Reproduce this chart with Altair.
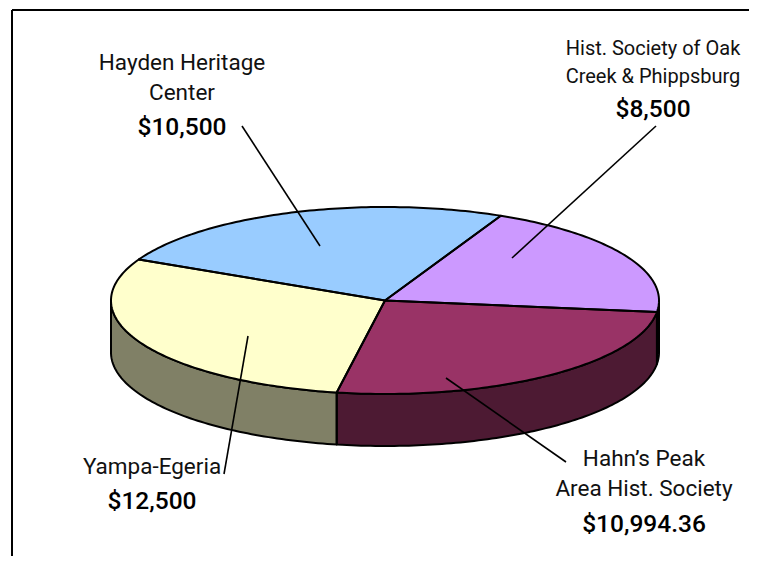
import numpy as np
import pandas as pd
import altair as alt

names = ["Hist. Society of Oak Creek & Phippsburg", "Hahn's Peak Area Hist. Society", "Yampa-Egeria", "Hayden Heritage Center"]
values = [8500, 10994.36, 12500, 10500]
top_colors = ["#CC99FF", "#993366", "#FFFFCC", "#99CCFF"]
side_colors = ["#664D80", "#4D1A33", "#808066", "#4D6680"]

label_text = ["Hayden Heritage", "Center", "$10,500",
              "Hist. Society of Oak", "Creek & Phippsburg", "$8,500",
              "Hahn\u2019s Peak", "Area Hist. Society", "$10,994.36",
              "Yampa-Egeria", "$12,500"]
label_x = [182, 182, 182, 653, 653, 653, 644, 644, 644, 152, 152]
label_y = [70, 100, 135, 55, 83, 117, 466, 496, 532, 474, 509]
label_size = [22.5, 22.5, 24.5, 20, 20, 24.5, 22.5, 22.5, 24.5, 22.5, 24.5]
label_weight = ["normal", "normal", "bold", "normal", "normal", "bold", "normal", "normal", "bold", "normal", "bold"]

leader_x1 = [242, 656, 446, 248]
leader_y1 = [126, 126, 378, 336]
leader_x2 = [320, 512, 566, 224]
leader_y2 = [246, 258, 462, 474]

FONT = "Roboto"
CX, CY, A, B, DEPTH = 385, 300.5, 274, 93.5, 52
START = 65

def pt(t):
    r = np.radians(t)
    return CX + A * np.cos(r), CY - B * np.sin(r)

top_area, side_area, outlines = [], [], []
ang = START
for i, v in enumerate(values):
    end = ang - v / sum(values) * 360
    ts = np.arange(ang, end, -1.0).tolist() + [end]
    xs, ys = pt(np.array(ts))
    px = np.concatenate([[CX], xs, [CX]])
    py = np.concatenate([[CY], ys, [CY]])
    # upper and lower boundary of the convex sector for each x
    for x in np.unique(np.round(px, 3)):
        cross = []
        for j in range(len(px) - 1):
            x0, x1, y0, y1 = px[j], px[j + 1], py[j], py[j + 1]
            lo, hi = min(x0, x1), max(x0, x1)
            if lo - 1e-3 <= x <= hi + 1e-3:
                if abs(x1 - x0) < 1e-6:
                    cross += [y0, y1]
                else:
                    cross.append(y0 + (y1 - y0) * (x - x0) / (x1 - x0))
        top_area.append(dict(s=i, x=float(x), y=min(cross), y2=max(cross)))
    for k, (x, y) in enumerate(zip(px, py)):
        outlines.append(dict(id=f"t{i}", o=k, x=float(x), y=float(y), layer=1))
    # front wall: only the part of the rim between 0 and -180 degrees shows
    hi, lo = min(ang, 0), max(end, -180)
    if lo < hi:
        ws = np.arange(hi, lo, -1.0).tolist() + [lo]
        wx, wy = pt(np.array(ws))
        for x, y in zip(wx, wy):
            side_area.append(dict(s=i, x=float(x), y=float(y), y2=float(y + DEPTH)))
        loop = list(zip(wx, wy)) + [(x, y + DEPTH) for x, y in zip(wx[::-1], wy[::-1])] + [(wx[0], wy[0])]
        for k, (x, y) in enumerate(loop):
            outlines.append(dict(id=f"w{i}", o=k, x=float(x), y=float(y), layer=0))
    ang = end

top_df = pd.DataFrame(top_area)
side_df = pd.DataFrame(side_area)
line_df = pd.DataFrame(outlines)
for d in (top_df, side_df):
    d["fill"] = d["s"].astype(str)
W, H = 741, 548
xs_ = alt.Scale(domain=[8, 8 + W], range=[0, W], nice=False, zero=False)
ys_ = alt.Scale(domain=[8, 8 + H], range=[0, H], nice=False, zero=False)
X = lambda f="x": alt.X(f, type="quantitative", scale=xs_, axis=None)
Y = lambda f="y": alt.Y(f, type="quantitative", scale=ys_, axis=None)

top_color = alt.Color("fill:N", scale=alt.Scale(domain=["0","1","2","3"], range=top_colors), legend=None)
side_color = alt.Color("fill:N", scale=alt.Scale(domain=["0","1","2","3"], range=side_colors), legend=None)

side = alt.Chart(side_df).mark_area(interpolate="linear", opacity=1).encode(
    x=X(), y=Y(), y2="y2:Q", color=side_color, detail="s:N")
side_line = alt.Chart(line_df[line_df.layer == 0]).mark_line(color="black", strokeWidth=2, strokeJoin="round").encode(
    x=X(), y=Y(), order="o:Q", detail="id:N")
top = alt.Chart(top_df).mark_area(interpolate="linear", opacity=1).encode(
    x=X(), y=Y(), y2="y2:Q", color=top_color, detail="s:N")
top_line = alt.Chart(line_df[line_df.layer == 1]).mark_line(color="black", strokeWidth=2, strokeJoin="round").encode(
    x=X(), y=Y(), order="o:Q", detail="id:N")

leaders = pd.DataFrame(dict(x=leader_x1, y=leader_y1, x2=leader_x2, y2=leader_y2))
leader = alt.Chart(leaders).mark_rule(color="black", strokeWidth=1.6).encode(
    x=X(), y=Y(), x2="x2:Q", y2="y2:Q")

frame_df = pd.DataFrame(dict(x=[12, 12], y=[10, 10], x2=[12, 749], y2=[556, 10]))
frame = alt.Chart(frame_df).mark_rule(color="black", strokeWidth=2).encode(
    x=X(), y=Y(), x2="x2:Q", y2="y2:Q")

labels = pd.DataFrame(dict(t=label_text, x=label_x, y=label_y, size=label_size, w=label_weight))
normal = alt.Chart(labels[labels.w == "normal"]).mark_text(
    font=FONT, baseline="alphabetic", align="center", color="#111111").encode(
    x=X(), y=Y(), text="t:N", size=alt.Size("size:Q", scale=None, legend=None))
bold = alt.Chart(labels[labels.w == "bold"]).mark_text(
    font=FONT, baseline="alphabetic", align="center", color="black", fontWeight=500).encode(
    x=X(), y=Y(), text="t:N", size=alt.Size("size:Q", scale=None, legend=None))

chart = alt.layer(frame, side, side_line, top, top_line, leader, normal, bold).resolve_scale(
    color="independent"
).properties(width=W, height=H, padding=0, autosize=alt.AutoSizeParams(type="none"),
             background="white").configure_view(stroke=None)
chart.save("out.html", embed_options={"renderer": "svg", "actions": False})
